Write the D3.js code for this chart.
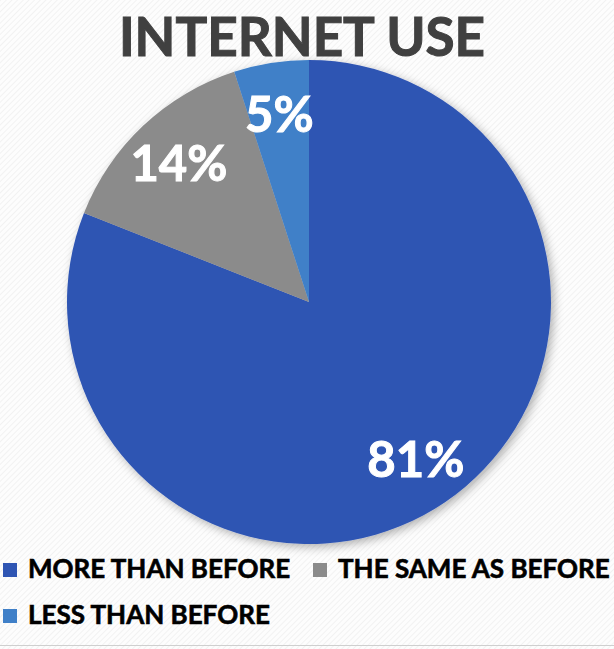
<!DOCTYPE html>
<html>
<head>
<meta charset="utf-8">
<script src="https://cdn.jsdelivr.net/npm/d3@7"></script>
<style>
  body { margin: 0; background: #fff; }
  text { font-family: Lato, "Open Sans", sans-serif; font-weight: bold; }
</style>
</head>
<body>
<div id="chart"></div>
<script>
var categories = ["MORE THAN BEFORE", "THE SAME AS BEFORE", "LESS THAN BEFORE"];
var values = [81, 14, 5];
var colors = ["#2f55b3", "#8b8b8b", "#4080c8"];

var width = 614, height = 649;
var cx = 309, cy = 302, radius = 242;

var svg = d3.select("#chart").append("svg")
    .attr("width", width)
    .attr("height", height);

var defs = svg.append("defs");

// faint diagonal hatch in the background
var pat = defs.append("pattern")
    .attr("id", "hatch")
    .attr("width", 4)
    .attr("height", 4)
    .attr("patternUnits", "userSpaceOnUse")
    .attr("patternTransform", "rotate(45)");
pat.append("rect").attr("width", 4).attr("height", 4).attr("fill", "#fdfdfd");
pat.append("line")
    .attr("x1", 0).attr("y1", 0).attr("x2", 0).attr("y2", 4)
    .attr("stroke", "#ebebeb").attr("stroke-width", 1.2);

var shadow = defs.append("filter")
    .attr("id", "shadow")
    .attr("x", "-20%").attr("y", "-20%")
    .attr("width", "140%").attr("height", "140%");
shadow.append("feDropShadow")
    .attr("dx", 3).attr("dy", 3)
    .attr("stdDeviation", 5)
    .attr("flood-color", "#000")
    .attr("flood-opacity", 0.3);

svg.append("rect")
    .attr("width", width)
    .attr("height", height)
    .attr("fill", "url(#hatch)");

svg.append("line")
    .attr("x1", 0).attr("x2", width)
    .attr("y1", height - 3.5).attr("y2", height - 3.5)
    .attr("stroke", "#cfcfcf").attr("stroke-width", 1);

svg.append("text")
    .attr("x", 302)
    .attr("y", 56)
    .attr("text-anchor", "middle")
    .attr("fill", "#404040")
    .attr("stroke", "#404040")
    .attr("stroke-width", 1)
    .style("font-size", "53px")
    .text("INTERNET USE");

var pie = d3.pie().sort(null).value(function(d) { return d; });
var arc = d3.arc().innerRadius(0).outerRadius(radius);
var labelArc = d3.arc().innerRadius(190).outerRadius(190);

var g = svg.append("g")
    .attr("transform", "translate(" + cx + "," + cy + ")");

g.append("g")
    .attr("filter", "url(#shadow)")
  .selectAll("path")
    .data(pie(values))
  .enter().append("path")
    .attr("d", arc)
    .attr("fill", function(d, i) { return colors[i]; });

g.selectAll(".label")
    .data(pie(values))
  .enter().append("text")
    .attr("class", "label")
    .attr("transform", function(d) { return "translate(" + labelArc.centroid(d) + ")"; })
    .attr("dy", "0.36em")
    .attr("text-anchor", "middle")
    .attr("fill", "#fff")
    .attr("stroke", "#fff")
    .attr("stroke-width", 1)
    .style("font-size", "49px")
    .text(function(d) { return d.data + "%"; });

// legend, two rows
var legendPos = [[3, 570], [313, 570], [3, 616]];

var legend = svg.selectAll(".legend")
    .data(categories)
  .enter().append("g")
    .attr("class", "legend")
    .attr("transform", function(d, i) { return "translate(" + legendPos[i][0] + "," + legendPos[i][1] + ")"; });

legend.append("rect")
    .attr("y", -7)
    .attr("width", 14)
    .attr("height", 14)
    .attr("fill", function(d, i) { return colors[i]; });

legend.append("text")
    .attr("x", 25)
    .attr("y", 8)
    .attr("fill", "#000")
    .attr("stroke", "#000")
    .attr("stroke-width", 0.6)
    .style("font-size", "26px")
    .text(function(d) { return d; });
</script>
</body>
</html>
